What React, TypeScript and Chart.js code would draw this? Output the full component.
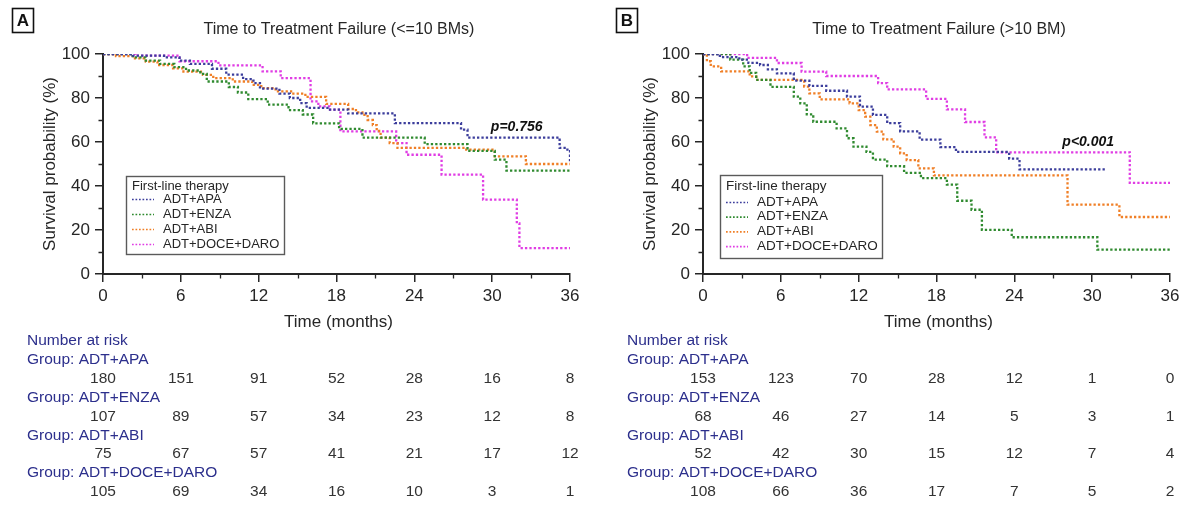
import React, { useEffect, useRef } from 'react';
import { Chart, registerables } from 'chart.js';

Chart.register(...registerables);

const FONT = "'Liberation Sans', Arial, Helvetica, sans-serif";
const INK = '#262626';
const NAVY = '#2c2f8c';

// Treatment groups, in legend / table order
const groupNames = ['ADT+APA', 'ADT+ENZA', 'ADT+ABI', 'ADT+DOCE+DARO'];
const groupColors = ['#3c3e9c', '#2f8a2f', '#f07f26', '#e03de4'];

// Axis ticks
const monthTicks = [0, 6, 12, 18, 24, 30, 36];
const minorMonths = [3, 9, 15, 21, 27, 33];
const minorPercents = [10, 30, 50, 70, 90];

// ---- Panel A: <=10 BMs (time in months, survival %) ----
const apaTimeA = [0, 2.3, 4.7, 5.9, 6.7, 8.4, 9.5, 10.8, 11.6, 12.1, 13.6, 14.4, 15.2, 15.7, 17.5, 18.9, 22.5, 27.6, 28.1, 35.2, 35.8, 36];
const apaSurvA = [100, 99.3, 98.5, 97, 95.5, 93.3, 90.6, 88.6, 86.8, 84.3, 82, 80, 77.7, 75.5, 74.7, 73, 68.6, 65.6, 62, 57.3, 55.8, 51];
const enzaTimeA = [0, 2.3, 3.3, 4.4, 5.5, 6.4, 7.5, 8.0, 9.7, 10.4, 11.2, 12.7, 14.3, 15.4, 16.2, 18.2, 20.0, 24.8, 28.1, 30.2, 31.1, 36];
const enzaSurvA = [100, 98.5, 97, 95.5, 94, 92.5, 91, 87.5, 85, 82.5, 79.5, 77, 74.5, 72.5, 68.5, 66, 62, 59, 56, 52, 47, 47];
const abiTimeA = [0, 1.0, 2.3, 3.3, 4.2, 5.4, 6.2, 7.7, 8.5, 10.0, 11.5, 12.2, 13.3, 14.5, 15.6, 17.2, 18.9, 19.5, 20.0, 20.4, 20.8, 21.1, 21.4, 22.1, 22.7, 28.0, 30.2, 32.6, 36];
const abiSurvA = [100, 99, 98, 96.5, 95, 93.5, 92, 90.5, 89, 87.5, 86, 84.5, 83, 82, 80.5, 77.3, 75, 73.5, 72.3, 70, 67.7, 65, 62, 59.5, 57.3, 56.5, 53.5, 50, 50];
const daroTimeA = [0, 2.5, 5.9, 8.9, 12.3, 13.7, 16.0, 16.6, 17.5, 18.3, 22.6, 23.4, 26.1, 29.3, 31.9, 32.1, 36];
const daroSurvA = [100, 99.3, 96.7, 94.8, 92.1, 89, 78.5, 76.2, 74.7, 64.8, 59.5, 54.2, 45.2, 33.8, 23, 11.8, 11.8];

// Number at risk, panel A (at 0, 6, ..., 36 months)
const riskApaA = [180, 151, 91, 52, 28, 16, 8];
const riskEnzaA = [107, 89, 57, 34, 23, 12, 8];
const riskAbiA = [75, 67, 57, 41, 21, 17, 12];
const riskDaroA = [105, 69, 34, 16, 10, 3, 1];

// ---- Panel B: >10 BM ----
const apaTimeB = [0, 1.3, 2.8, 3.5, 4.4, 5.0, 5.7, 7.0, 8.2, 9.5, 11.1, 12.1, 13.1, 14.2, 15.2, 16.7, 18.3, 19.5, 23.6, 24.4, 31.1];
const apaSurvB = [100, 98.6, 97.4, 96, 95, 93, 91.2, 87.9, 85.5, 83.3, 80.6, 76.1, 72.3, 68.6, 64.8, 61.1, 57.7, 55.5, 52.4, 47.6, 47.6];
const enzaTimeB = [0, 2.1, 3.1, 3.6, 4.1, 5.2, 7.0, 7.5, 8.0, 8.5, 10.3, 11.1, 11.6, 12.6, 13.1, 14.2, 15.5, 16.8, 18.8, 19.6, 20.7, 21.5, 23.8, 30.4, 36];
const enzaSurvB = [100, 97.4, 94.4, 91.4, 88.2, 85.1, 80.6, 77.6, 72.6, 69.2, 66.2, 61.7, 57.9, 55.5, 52, 49, 46, 43.6, 40.6, 33.3, 29.2, 20.1, 16.7, 11.1, 11.1];
const abiTimeB = [0, 0.3, 0.6, 1.4, 3.6, 4.1, 7.8, 8.2, 9.0, 11.3, 12.0, 12.5, 12.9, 13.4, 13.9, 14.7, 15.2, 15.7, 16.6, 17.8, 28.1, 32.1, 36];
const abiSurvB = [100, 96.7, 94.4, 92.1, 89.8, 88.2, 85.2, 82.1, 79.4, 77.6, 74.5, 71.5, 67.7, 64.7, 61.2, 57.9, 54.8, 51.8, 48, 44.8, 31.5, 25.9, 25.9];
const daroTimeB = [0, 3.4, 5.7, 7.6, 9.5, 13.5, 14.2, 17.2, 18.8, 20.2, 21.7, 22.6, 32.9, 36];
const daroSurvB = [100, 98.2, 95.9, 92, 90, 86.8, 83.9, 79.6, 74.8, 69.1, 62.1, 55.3, 41.4, 41.4];

// Number at risk, panel B
const riskApaB = [153, 123, 70, 28, 12, 1, 0];
const riskEnzaB = [68, 46, 27, 14, 5, 3, 1];
const riskAbiB = [52, 42, 30, 15, 12, 7, 4];
const riskDaroB = [108, 66, 36, 17, 7, 5, 2];

interface LegendBox { x: number; y: number; w: number; h: number; titleDy: number; rowDy: number; rowGap: number; font: number }
interface PanelSpec {
  letter: string;
  letterX: number;
  title: string;
  pText: string;
  pMonth: number;
  pPercent: number;
  times: number[][];
  surv: number[][];
  atRisk: number[][];
  legend: LegendBox;
}

const panelA: PanelSpec = {
  letter: 'A',
  letterX: 12,
  title: 'Time to Treatment Failure (<=10 BMs)',
  pText: 'p=0.756',
  pMonth: 29.9,
  pPercent: 66.8,
  times: [apaTimeA, enzaTimeA, abiTimeA, daroTimeA],
  surv: [apaSurvA, enzaSurvA, abiSurvA, daroSurvA],
  atRisk: [riskApaA, riskEnzaA, riskAbiA, riskDaroA],
  legend: { x: 126, y: 176, w: 158, h: 78, titleDy: 10, rowDy: 23, rowGap: 15, font: 13 },
};

const panelB: PanelSpec = {
  letter: 'B',
  letterX: 16,
  title: 'Time to Treatment Failure (>10 BM)',
  pText: 'p<0.001',
  pMonth: 27.7,
  pPercent: 60,
  times: [apaTimeB, enzaTimeB, abiTimeB, daroTimeB],
  surv: [apaSurvB, enzaSurvB, abiSurvB, daroSurvB],
  atRisk: [riskApaB, riskEnzaB, riskAbiB, riskDaroB],
  legend: { x: 120, y: 175, w: 162, h: 83, titleDy: 11, rowDy: 27, rowGap: 14.7, font: 13.5 },
};

const W = 600;
const H = 509;

function decorPlugin(spec: PanelSpec) {
  return {
    id: 'kmDecor',
    afterDraw(chart: any) {
      const ctx: CanvasRenderingContext2D = chart.ctx;
      const xs = chart.scales.x;
      const ys = chart.scales.y;
      const area = chart.chartArea;
      ctx.save();

      // minor tick marks
      ctx.strokeStyle = INK;
      ctx.lineWidth = 1.3;
      ctx.beginPath();
      for (const m of minorMonths) {
        const px = Math.round(xs.getPixelForValue(m)) + 0.5;
        ctx.moveTo(px, area.bottom);
        ctx.lineTo(px, area.bottom + 4.5);
      }
      for (const v of minorPercents) {
        const py = Math.round(ys.getPixelForValue(v)) + 0.5;
        ctx.moveTo(area.left, py);
        ctx.lineTo(area.left - 4.5, py);
      }
      ctx.stroke();

      // panel letter in a box
      ctx.lineWidth = 1.6;
      ctx.strokeStyle = '#111';
      ctx.strokeRect(spec.letterX + 0.5, 8.5, 21, 24);
      ctx.fillStyle = '#111';
      ctx.font = `bold 17px ${FONT}`;
      ctx.textAlign = 'center';
      ctx.textBaseline = 'middle';
      ctx.fillText(spec.letter, spec.letterX + 11, 21);

      // title
      ctx.fillStyle = INK;
      ctx.font = `16px ${FONT}`;
      ctx.fillText(spec.title, 339, 30);

      // axis titles
      ctx.font = `17px ${FONT}`;
      ctx.fillText('Time (months)', (area.left + area.right) / 2 + 2, 322);
      ctx.save();
      ctx.translate(50, (area.top + area.bottom) / 2);
      ctx.rotate(-Math.PI / 2);
      ctx.fillText('Survival probability (%)', 0, 0);
      ctx.restore();

      // p-value
      ctx.font = `italic bold 14px ${FONT}`;
      ctx.textAlign = 'left';
      ctx.fillStyle = '#111';
      ctx.fillText(spec.pText, xs.getPixelForValue(spec.pMonth), ys.getPixelForValue(spec.pPercent));

      // legend
      const lg = spec.legend;
      ctx.fillStyle = '#fff';
      ctx.fillRect(lg.x, lg.y, lg.w, lg.h);
      ctx.strokeStyle = '#5a5a5a';
      ctx.lineWidth = 1.4;
      ctx.strokeRect(lg.x + 0.5, lg.y + 0.5, lg.w, lg.h);
      ctx.fillStyle = INK;
      ctx.font = `${lg.font}px ${FONT}`;
      ctx.textBaseline = 'middle';
      ctx.fillText('First-line therapy', lg.x + 6, lg.y + lg.titleDy);
      groupNames.forEach((name, i) => {
        const y = lg.y + lg.rowDy + i * lg.rowGap;
        ctx.strokeStyle = groupColors[i];
        ctx.lineWidth = 1.7;
        ctx.setLineDash([1.7, 1.8]);
        ctx.beginPath();
        ctx.moveTo(lg.x + 6, y + 0.5);
        ctx.lineTo(lg.x + 28, y + 0.5);
        ctx.stroke();
        ctx.setLineDash([]);
        ctx.fillStyle = INK;
        ctx.fillText(name, lg.x + 37, y);
      });

      // number-at-risk table
      ctx.font = `15.5px ${FONT}`;
      ctx.fillStyle = NAVY;
      ctx.textAlign = 'left';
      ctx.fillText('Number at risk', 27, 341);
      groupNames.forEach((name, i) => {
        ctx.fillStyle = NAVY;
        ctx.textAlign = 'left';
        ctx.fillText('Group: ' + name, 27, 360 + i * 37.7);
        ctx.fillStyle = '#333';
        ctx.textAlign = 'center';
        spec.atRisk[i].forEach((n, k) => {
          ctx.fillText(String(n), xs.getPixelForValue(monthTicks[k]), 378.5 + i * 37.8);
        });
      });

      ctx.restore();
    },
  };
}

function KMPanel({ spec }: { spec: PanelSpec }) {
  const ref = useRef<HTMLCanvasElement>(null);

  useEffect(() => {
    const canvas = ref.current;
    if (!canvas) return;
    const datasets = spec.times.map((times, i) => ({
      label: groupNames[i],
      data: times.map((t, k) => ({ x: t, y: spec.surv[i][k] })),
      borderColor: groupColors[i],
      backgroundColor: groupColors[i],
      borderWidth: 2.3,
      borderDash: [2.3, 2.1],
      borderCapStyle: 'butt' as const,
      stepped: 'before' as const,
      pointRadius: 0,
      fill: false,
    }));
    const tickFont = { family: FONT, size: 17 };
    const chart = new Chart(canvas, {
      type: 'line',
      data: { datasets: datasets as any },
      plugins: [decorPlugin(spec)],
      options: {
        responsive: false,
        animation: false,
        devicePixelRatio: 1,
        layout: { padding: { left: 0, right: 30, top: 54, bottom: 195 } },
        plugins: { legend: { display: false }, tooltip: { enabled: false }, title: { display: false } },
        scales: {
          x: {
            type: 'linear',
            min: 0,
            max: 36,
            afterFit: (s: any) => { s.height = 40; },
            afterBuildTicks: (s: any) => { s.ticks = monthTicks.map((v) => ({ value: v })); },
            ticks: { font: tickFont, color: INK, padding: 4, maxRotation: 0, autoSkip: false },
            grid: { display: true, drawOnChartArea: false, drawTicks: true, tickLength: 8, color: INK, lineWidth: 1.5 },
            border: { display: true, color: INK, width: 2 },
          },
          y: {
            type: 'linear',
            min: 0,
            max: 100,
            afterFit: (s: any) => { s.width = 103; },
            ticks: { stepSize: 20, font: tickFont, color: INK, padding: 5 },
            grid: { display: true, drawOnChartArea: false, drawTicks: true, tickLength: 8, color: INK, lineWidth: 1.5 },
            border: { display: true, color: INK, width: 2 },
          },
        },
      },
    } as any);
    return () => chart.destroy();
  }, [spec]);

  return <canvas ref={ref} width={W} height={H} style={{ display: 'block', width: W, height: H }} />;
}

export default function App() {
  return (
    <div style={{ position: 'absolute', left: 0, top: 0, width: 1200, height: 509, display: 'flex', background: '#fff' }}>
      <KMPanel spec={panelA} />
      <KMPanel spec={panelB} />
    </div>
  );
}
